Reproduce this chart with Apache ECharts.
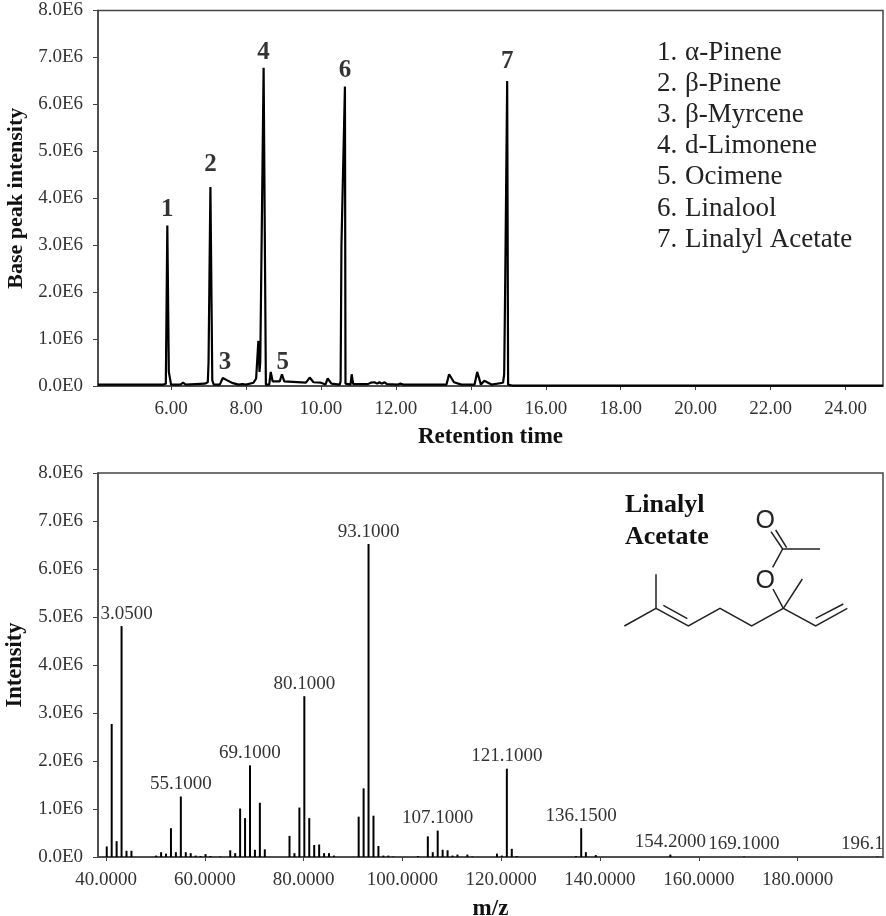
<!DOCTYPE html>
<html>
<head>
<meta charset="utf-8">
<title>Chromatogram and mass spectrum</title>
<script src="https://cdn.jsdelivr.net/npm/echarts@6/dist/echarts.min.js"></script>
<style>
  html, body { margin: 0; padding: 0; background: #fff; }
  #chart { width: 886px; height: 916px; }
</style>
</head>
<body>
<div id="chart"></div>
<script>
// chromatogram, intensities in units of 1E6
const retentionTimes = [4.05, 5.0, 5.8, 5.86, 5.9, 5.94, 6.0, 6.25, 6.32, 6.39, 6.9, 6.98, 7.0, 7.05, 7.1, 7.14, 7.3, 7.38, 7.5, 7.65, 7.8, 7.9, 8.0, 8.2, 8.27, 8.31, 8.33, 8.36, 8.38, 8.47, 8.53, 8.62, 8.66, 8.71, 8.9, 8.96, 9.02, 9.6, 9.7, 9.8, 10.0, 10.12, 10.18, 10.28, 10.5, 10.525, 10.547, 10.64, 10.655, 10.79, 10.82, 10.86, 11.25, 11.33, 11.38, 11.43, 11.5, 11.56, 11.62, 11.7, 11.76, 12.05, 12.12, 12.2, 13.35, 13.42, 13.55, 13.75, 14.1, 14.17, 14.27, 14.36, 14.55, 14.86, 14.89, 14.915, 14.97, 14.995, 15.1, 25];
const baseIntensity = [0.03, 0.03, 0.03, 0.05, 3.42, 0.3, 0.03, 0.03, 0.07, 0.03, 0.05, 0.08, 0.5, 4.24, 0.12, 0.03, 0.03, 0.17, 0.12, 0.06, 0.03, 0.04, 0.03, 0.07, 0.16, 0.2, 0.96, 0.3, 0.5, 6.78, 0.03, 0.03, 0.3, 0.1, 0.1, 0.25, 0.1, 0.07, 0.18, 0.08, 0.07, 0.03, 0.16, 0.05, 0.03, 0.1, 3.0, 6.38, 0.05, 0.03, 0.25, 0.04, 0.04, 0.07, 0.05, 0.08, 0.05, 0.08, 0.05, 0.08, 0.04, 0.03, 0.05, 0.03, 0.03, 0.25, 0.08, 0.03, 0.03, 0.3, 0.03, 0.11, 0.03, 0.07, 0.25, 2.0, 6.5, 0.03, 0.01, 0.01];

// where each numbered peak label sits
const peakTimes = [5.9, 7.05, 7.44, 8.47, 8.98, 10.64, 14.97];
const peakHeights = [3.42, 4.39, 0.17, 6.78, 0.17, 6.38, 6.58];
const peakNames = ['1', '2', '3', '4', '5', '6', '7'];

const compoundList = ['1. α-Pinene', '2. β-Pinene', '3. β-Myrcene', '4. d-Limonene', '5. Ocimene', '6. Linalool', '7. Linalyl Acetate'];

// mass spectrum of linalyl acetate
const massValues = [40.15, 41.15, 42.15, 43.15, 44.15, 45.15, 50.15, 51.15, 52.15, 53.15, 54.15, 55.15, 56.15, 57.15, 58.15, 59.15, 60.15, 61.15, 63.15, 65.15, 66.15, 67.15, 68.15, 69.15, 70.15, 71.15, 72.15, 77.15, 78.15, 79.15, 80.15, 81.15, 82.15, 83.15, 84.15, 85.15, 86.15, 91.15, 92.15, 93.15, 94.15, 95.15, 96.15, 97.15, 98.15, 103.15, 105.15, 106.15, 107.15, 108.15, 109.15, 110.15, 111.15, 113.15, 114.15, 119.15, 120.15, 121.15, 122.15, 123.15, 135.15, 136.2, 137.15, 139.15, 154.25, 169.15, 196.15];
const massIntensity = [0.22, 2.77, 0.33, 4.81, 0.13, 0.13, 0.03, 0.1, 0.07, 0.6, 0.1, 1.26, 0.1, 0.08, 0.03, 0.02, 0.06, 0.02, 0.01, 0.14, 0.08, 1.01, 0.81, 1.91, 0.15, 1.13, 0.16, 0.44, 0.08, 1.03, 3.35, 0.81, 0.25, 0.26, 0.08, 0.08, 0.03, 0.84, 1.43, 6.52, 0.86, 0.23, 0.03, 0.03, 0.01, 0.02, 0.43, 0.1, 0.55, 0.15, 0.14, 0.03, 0.05, 0.05, 0.01, 0.07, 0.03, 1.84, 0.17, 0.02, 0.02, 0.6, 0.1, 0.04, 0.05, 0.01, 0.01];
const labelledMasses = [43.15, 55.15, 69.15, 80.15, 93.15, 107.15, 121.15, 136.2, 154.25, 169.15, 196.15];
const massLabels = ['3.0500', '55.1000', '69.1000', '80.1000', '93.1000', '107.1000', '121.1000', '136.1500', '154.2000', '169.1000', '196.1'];

const yTicks = ['0.0E0', '1.0E6', '2.0E6', '3.0E6', '4.0E6', '5.0E6', '6.0E6', '7.0E6', '8.0E6'];
const timeTicks = [6, 8, 10, 12, 14, 16, 18, 20, 22, 24];
const massTicks = [40, 60, 80, 100, 120, 140, 160, 180];

const SERIF = '"Liberation Serif", "Times New Roman", serif';
const AXIS_COLOR = '#444';
const TEXT_COLOR = '#333';

const makeXAxis = (gridIndex, min, max, ticks, digits, name, gap) => ({
  type: 'value',
  gridIndex,
  min,
  max,
  name,
  nameLocation: 'middle',
  nameGap: gap,
  nameTextStyle: { fontFamily: SERIF, fontWeight: 'bold', fontSize: 23, color: '#111' },
  splitLine: { show: false },
  axisLine: { lineStyle: { color: AXIS_COLOR, width: 1.5 } },
  axisTick: { length: 4, customValues: ticks, lineStyle: { color: AXIS_COLOR } },
  axisLabel: {
    customValues: ticks,
    margin: 13.5,
    fontFamily: SERIF,
    fontSize: 19,
    color: TEXT_COLOR,
    formatter: (v) => v.toFixed(digits)
  }
});

const makeYAxis = (gridIndex, name, nameSize) => ({
  type: 'value',
  gridIndex,
  min: 0,
  max: 8,
  interval: 1,
  name,
  nameLocation: 'middle',
  nameGap: 71,
  nameTextStyle: { fontFamily: SERIF, fontWeight: 'bold', fontSize: nameSize, color: '#111' },
  splitLine: { show: false },
  axisLine: { lineStyle: { color: AXIS_COLOR, width: 1.5 } },
  axisTick: { length: 5, lineStyle: { color: AXIS_COLOR } },
  axisLabel: {
    margin: 15,
    fontFamily: SERIF,
    fontSize: 19,
    color: TEXT_COLOR,
    formatter: (v) => yTicks[v]
  }
});

const massData = massValues.map((m, i) => {
  const k = labelledMasses.indexOf(m);
  if (k < 0) return [m, massIntensity[i]];
  let offset = [0, 0];
  if (massLabels[k] === '3.0500') offset = [5, 0];
  if (massLabels[k] === '196.1') offset = [-15, 0];
  return {
    value: [m, massIntensity[i]],
    label: { show: true, position: 'top', distance: 3, offset, formatter: massLabels[k] }
  };
});

// structure drawing of linalyl acetate, coordinates are page pixels
const STRUCT_X = 600;
const STRUCT_Y = 480;
const bondPaths = [
  [[73, 438], [168, 385], [265, 438], [360, 385], [455, 438], [550, 385], [647, 438], [742, 385]],
  [[168, 385], [168, 283]],
  [[190, 376], [262, 416]],
  [[550, 385], [607, 297]],
  [[550, 385], [519, 327]],
  [[518, 262], [548, 207], [660, 207]],
  [[548, 207], [513, 155]],
  [[560, 203], [527, 150]],
  [[647, 415], [730, 372]]
];
const bondGraphics = bondPaths.map((pts) => ({
  type: 'polyline',
  silent: true,
  shape: { points: pts.map((p) => [STRUCT_X + p[0] / 3, STRUCT_Y + p[1] / 3]) },
  style: { stroke: '#222', lineWidth: 1.5, fill: null }
}));
const oxygenGraphics = [[496, 124], [496, 304]].map((p) => ({
  type: 'text',
  silent: true,
  x: STRUCT_X + p[0] / 3,
  y: STRUCT_Y + p[1] / 3,
  style: { text: 'O', fill: '#222', font: '25px "Liberation Sans", Arial, sans-serif', textAlign: 'center', textVerticalAlign: 'middle' }
}));
const titleGraphics = ['Linalyl', 'Acetate'].map((t, i) => ({
  type: 'text',
  silent: true,
  x: 625,
  y: 505 + i * 32,
  style: { text: t, fill: '#111', font: 'bold 26px ' + SERIF, textAlign: 'left', textVerticalAlign: 'middle' }
}));
const listGraphics = compoundList.map((t, i) => {
  const dot = t.indexOf(' ');
  return [
    { type: 'text', silent: true, x: 657, y: 52.5 + i * 31.2, style: { text: t.slice(0, dot), fill: '#222', font: '27px ' + SERIF, textAlign: 'left', textVerticalAlign: 'middle' } },
    { type: 'text', silent: true, x: 685, y: 52.5 + i * 31.2, style: { text: t.slice(dot + 1), fill: '#222', font: '27px ' + SERIF, textAlign: 'left', textVerticalAlign: 'middle' } }
  ];
}).flat();

const option = {
  animation: false,
  backgroundColor: '#fff',
  grid: [
    { left: 98, right: 3, top: 10.5, height: 375.5, outerBoundsMode: 'none', show: true, borderColor: AXIS_COLOR, borderWidth: 1.5 },
    { left: 98, right: 3, top: 473, height: 384, outerBoundsMode: 'none', show: true, borderColor: AXIS_COLOR, borderWidth: 1.5 }
  ],
  xAxis: [
    makeXAxis(0, 4.05, 25.0, timeTicks, 2, 'Retention time', 40),
    makeXAxis(1, 38.38, 197.3, massTicks, 4, 'm/z', 41)
  ],
  yAxis: [
    makeYAxis(0, 'Base peak intensity', 22),
    makeYAxis(1, 'Intensity', 22.5)
  ],
  series: [
    {
      type: 'line',
      xAxisIndex: 0,
      yAxisIndex: 0,
      data: retentionTimes.map((t, i) => [t, baseIntensity[i]]),
      showSymbol: false,
      lineStyle: { color: '#000', width: 2.2 },
      silent: true
    },
    {
      type: 'scatter',
      xAxisIndex: 0,
      yAxisIndex: 0,
      symbolSize: 0,
      data: peakTimes.map((t, i) => [t, peakHeights[i]]),
      label: {
        show: true,
        position: 'top',
        distance: 3,
        fontFamily: SERIF,
        fontWeight: 'bold',
        fontSize: 25,
        color: '#000',
        formatter: (p) => peakNames[p.dataIndex]
      },
      silent: true
    },
    {
      type: 'bar',
      xAxisIndex: 1,
      yAxisIndex: 1,
      barWidth: 2,
      data: massData,
      itemStyle: { color: '#000' },
      label: { fontFamily: SERIF, fontSize: 19, color: TEXT_COLOR },
      silent: true
    }
  ],
  graphic: { elements: [...listGraphics, ...titleGraphics, ...bondGraphics, ...oxygenGraphics] }
};

const chart = echarts.init(document.getElementById('chart'), null, { renderer: 'canvas' });
chart.setOption(option);
</script>
</body>
</html>
